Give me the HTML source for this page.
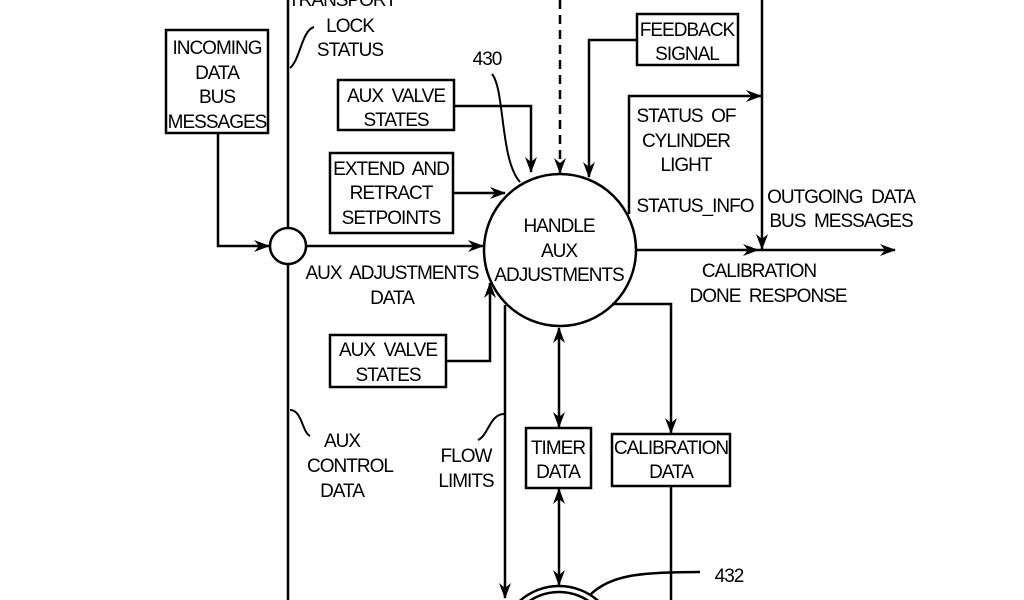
<!DOCTYPE html>
<html><head><meta charset="utf-8"><style>
html,body{margin:0;padding:0;background:#fff;width:1024px;height:600px;overflow:hidden;}
svg{display:block}
text{font-family:"Liberation Sans",sans-serif;font-size:19px;letter-spacing:-1px;fill:#000;text-anchor:middle;white-space:pre;}
</style></head><body>
<svg width="1024" height="600" viewBox="0 0 1024 600" xmlns="http://www.w3.org/2000/svg" overflow="hidden">
<defs>
<marker id="a" markerWidth="16" markerHeight="12" refX="15" refY="6" orient="auto" markerUnits="userSpaceOnUse">
<path d="M0,0 L16,6 L0,12 L5,6 Z" fill="#000"/>
</marker>
<marker id="s" markerWidth="16" markerHeight="12" refX="1" refY="6" orient="auto" markerUnits="userSpaceOnUse">
<path d="M16,0 L0,6 L16,12 L11,6 Z" fill="#000"/>
</marker>
</defs>
<g fill="none" stroke="#000" stroke-width="2.5">
<line x1="288" y1="0" x2="288" y2="228"/>
<line x1="288" y1="264" x2="288" y2="600"/>
<circle cx="288" cy="246" r="18"/>
<rect x="166" y="30" width="102" height="103"/>
<polyline points="218,133 218,246 269,246" marker-end="url(#a)"/>
<line x1="306" y1="246" x2="483" y2="246" marker-end="url(#a)"/>
<circle cx="560" cy="250" r="76"/>
<rect x="338" y="80" width="116" height="50"/>
<polyline points="454,106 531,106 531,172" marker-end="url(#a)"/>
<rect x="330" y="153" width="123" height="80"/>
<line x1="453" y1="193" x2="505" y2="193" marker-end="url(#a)"/>
<line x1="560" y1="0" x2="560" y2="173" stroke-dasharray="9,6" marker-end="url(#a)"/>
<rect x="637" y="14" width="101" height="51"/>
<polyline points="637,40 589,40 589,177" marker-end="url(#a)"/>
<polyline points="629,214 629,96 761,96" marker-end="url(#a)"/>
<line x1="762" y1="0" x2="762" y2="249" marker-end="url(#a)"/>
<line x1="636" y1="250" x2="758" y2="250" marker-end="url(#a)"/>
<line x1="758" y1="250" x2="895" y2="250" marker-end="url(#a)"/>
<rect x="330" y="335" width="116" height="52"/>
<polyline points="446,361 490,361 490,283" marker-end="url(#a)"/>
<line x1="505" y1="305" x2="505" y2="598" marker-end="url(#a)"/>
<line x1="559" y1="328" x2="559" y2="427" marker-start="url(#s)" marker-end="url(#a)"/>
<rect x="526" y="428" width="65" height="60"/>
<line x1="559" y1="489" x2="559" y2="585" marker-start="url(#s)" marker-end="url(#a)"/>
<polyline points="612,304 671,304 671,433" marker-end="url(#a)"/>
<rect x="612" y="434" width="118" height="52"/>
<line x1="671" y1="486" x2="671" y2="600"/>
<circle cx="559" cy="645" r="59"/>
<circle cx="559" cy="645" r="53"/>
<path d="M590,595 C610,575 640,572 700,572"/>
<path d="M492,74 C505,90 500,160 520,182" stroke-width="2"/>
<path d="M290,68 C300,60 302,30 314,27" stroke-width="2"/>
<path d="M290,410 C302,410 302,432 310,436" stroke-width="2"/>
<path d="M504,414 C490,414 488,436 478,440" stroke-width="2"/>
</g>
<text x="342" y="6">TRANSPORT</text>
<text x="350" y="32">LOCK</text>
<text x="350" y="56">STATUS</text>
<text x="217" y="54">INCOMING</text>
<text x="217" y="79">DATA</text>
<text x="217" y="103">BUS</text>
<text x="217" y="128">MESSAGES</text>
<text x="487" y="65">430</text>
<text x="396" y="102">AUX  VALVE</text>
<text x="396" y="126">STATES</text>
<text x="391" y="175">EXTEND  AND</text>
<text x="391" y="199">RETRACT</text>
<text x="391" y="224">SETPOINTS</text>
<text x="559" y="232">HANDLE</text>
<text x="559" y="257">AUX</text>
<text x="559" y="281">ADJUSTMENTS</text>
<text x="392" y="279">AUX  ADJUSTMENTS</text>
<text x="392" y="304">DATA</text>
<text x="687" y="36">FEEDBACK</text>
<text x="687" y="60">SIGNAL</text>
<text x="686" y="122">STATUS  OF</text>
<text x="686" y="147">CYLINDER</text>
<text x="686" y="171">LIGHT</text>
<text x="695" y="212">STATUS_INFO</text>
<text x="841" y="203">OUTGOING  DATA</text>
<text x="841" y="227">BUS  MESSAGES</text>
<text x="759" y="277">CALIBRATION</text>
<text x="768" y="302">DONE  RESPONSE</text>
<text x="388" y="356">AUX  VALVE</text>
<text x="388" y="381">STATES</text>
<text x="342" y="447">AUX</text>
<text x="350" y="472">CONTROL</text>
<text x="342" y="497">DATA</text>
<text x="466" y="462">FLOW</text>
<text x="466" y="487">LIMITS</text>
<text x="558" y="454">TIMER</text>
<text x="558" y="478">DATA</text>
<text x="671" y="454">CALIBRATION</text>
<text x="671" y="478">DATA</text>
<text x="729" y="582">432</text>
</svg>
</body></html>
